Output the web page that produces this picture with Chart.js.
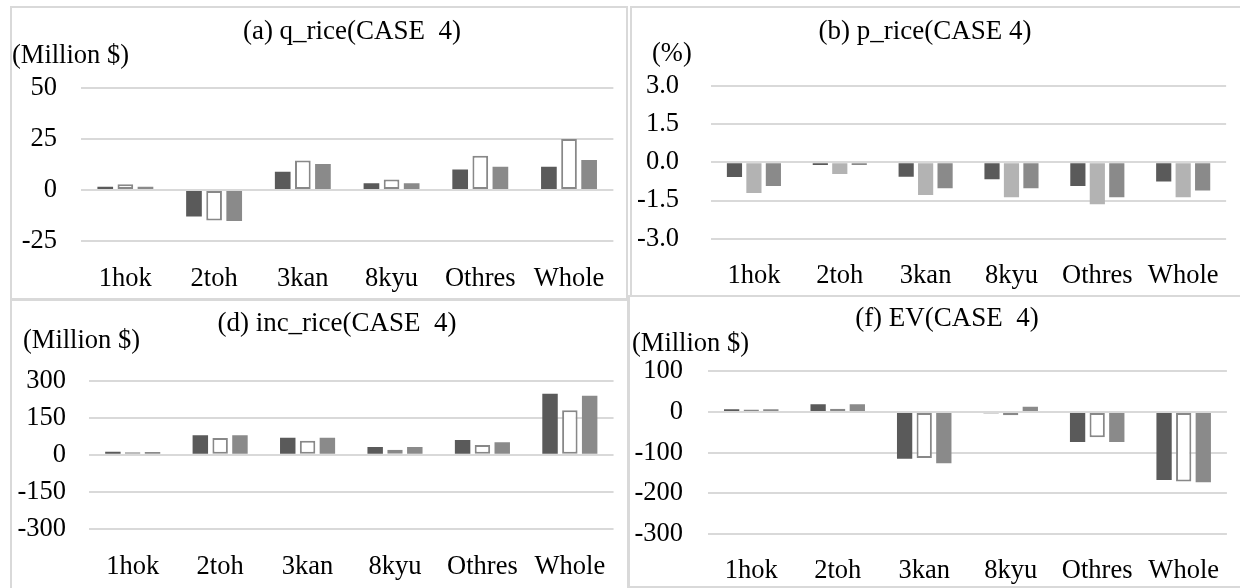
<!DOCTYPE html>
<html><head><meta charset="utf-8">
<script src="https://cdn.jsdelivr.net/npm/chart.js@4.4.1/dist/chart.umd.min.js"></script>
<style>
html,body{margin:0;padding:0;background:#fff;}
body{width:1240px;height:588px;position:relative;overflow:hidden;font-family:"Liberation Serif","Times New Roman",serif;}
.box{position:absolute;border:2px solid #d9d9d9;box-sizing:border-box;}
canvas{position:absolute;}
.txt{position:absolute;white-space:pre;line-height:1;color:#000;}
.title{font-size:27px;transform:translateX(-50%);}
.unit{font-size:26.5px;}
</style></head><body>
<div class="box" style="left:10px;top:6px;width:618px;height:294px;"></div>
<div class="box" style="left:630px;top:6px;width:640px;height:291px;"></div>
<div class="box" style="left:10px;top:299px;width:619px;height:320px;"></div>
<div class="box" style="left:628px;top:295px;width:640px;height:293px;"></div>

<canvas id="cA" width="627" height="299" style="left:0;top:0;"></canvas>
<canvas id="cB" width="609" height="289" style="left:631px;top:7px;"></canvas>
<canvas id="cD" width="628" height="288" style="left:0;top:300px;"></canvas>
<canvas id="cF" width="610" height="291" style="left:630px;top:297px;"></canvas>

<div class="txt title" style="left:352px;top:17px;">(a) q_rice(CASE  4)</div>
<div class="txt unit" style="left:12px;top:41px;">(Million $)</div>
<div class="txt title" style="left:925px;top:17px;">(b) p_rice(CASE 4)</div>
<div class="txt unit" style="left:652px;top:39px;">(%)</div>
<div class="txt title" style="left:337px;top:309px;">(d) inc_rice(CASE  4)</div>
<div class="txt unit" style="left:23px;top:326px;">(Million $)</div>
<div class="txt title" style="left:947px;top:304px;">(f) EV(CASE  4)</div>
<div class="txt unit" style="left:632px;top:329px;">(Million $)</div>

<script>
const categories = ['1hok', '2toh', '3kan', '8kyu', 'Othres', 'Whole'];
const seriesNames = ['Series 1', 'Series 2', 'Series 3'];

const qRice1 = [1.6, -13, 9, 3.3, 10, 11.4];
const qRice2 = [2.8, -15, 14.4, 5.2, 16.8, 25];
const qRice3 = [1.6, -15.2, 12.7, 3.3, 11.4, 14.7];
const qRiceTicks = [-25, 0, 25, 50];

const pRice1 = [-0.58, -0.10, -0.57, -0.66, -0.93, -0.75];
const pRice2 = [-1.20, -0.46, -1.28, -1.37, -1.65, -1.37];
const pRice3 = [-0.93, -0.10, -1.02, -1.02, -1.37, -1.11];
const pRiceTicks = [-3.0, -1.5, 0.0, 1.5, 3.0];

const incRice1 = [13, 80, 69, 32, 60, 248];
const incRice2 = [11, 68, 57, 21, 40, 181];
const incRice3 = [12, 80, 69, 32, 51, 240];
const incRiceTicks = [-300, -150, 0, 150, 300];

const ev1 = [7, 19, -115, -3, -74, -167];
const ev2 = [6, 8, -113, -8, -62, -171];
const ev3 = [7, 19, -126, 13, -74, -173];
const evTicks = [-300, -200, -100, 0, 100];

const FONT = "'Liberation Serif', 'Times New Roman', serif";
const DARK = '#5a5a5a', MID = '#8a8a8a', LIGHT = '#b3b3b3', OUTLINE = '#888888';

function makeChart(id, series, ticks, o) {
  new Chart(document.getElementById(id), {
    type: 'bar',
    data: {
      labels: categories,
      datasets: [
        { label: seriesNames[0], data: series[0], backgroundColor: DARK, borderWidth: 0 },
        o.lightMid
          ? { label: seriesNames[1], data: series[1], backgroundColor: LIGHT, borderWidth: 0 }
          : { label: seriesNames[1], data: series[1], backgroundColor: '#ffffff', borderColor: OUTLINE, borderWidth: 2, borderSkipped: false },
        { label: seriesNames[2], data: series[2], backgroundColor: MID, borderWidth: 0 }
      ]
    },
    options: {
      responsive: false, animation: false, devicePixelRatio: 1,
      layout: { padding: { left: 0, right: o.padR, top: o.padT, bottom: 0 } },
      plugins: { legend: { display: false }, title: { display: false }, tooltip: { enabled: false } },
      datasets: { bar: { categoryPercentage: 0.68, barPercentage: 0.78 } },
      scales: {
        x: {
          grid: { display: false, drawTicks: false }, border: { display: false },
          ticks: { color: '#000', font: { family: FONT, size: 26.5 }, padding: o.xPad, maxRotation: 0, autoSkip: false },
          afterFit: s => { s.height = o.xH; }
        },
        y: {
          min: ticks[0], max: ticks[ticks.length - 1],
          afterBuildTicks: s => { s.ticks = ticks.map(v => ({ value: v })); },
          grid: { color: '#d9d9d9', lineWidth: 2, drawTicks: false }, border: { display: false },
          ticks: { color: '#000', font: { family: FONT, size: 26.5 }, padding: o.yPad, callback: v => o.fmt(v) },
          afterFit: s => { s.width = o.yW; }
        }
      }
    }
  });
}

const intFmt = v => String(Math.round(v));
makeChart('cA', [qRice1, qRice2, qRice3], qRiceTicks, { padR: 8, padT: 88, xH: 58, xPad: 22, yPad: 24, yW: 81, fmt: intFmt });
makeChart('cB', [pRice1, pRice2, pRice3], pRiceTicks, { padR: 0, padT: 79, xH: 57.3, xPad: 21.5, yPad: 32, yW: 80, fmt: v => v.toFixed(1), lightMid: true });
makeChart('cD', [incRice1, incRice2, incRice3], incRiceTicks, { padR: 4, padT: 81, xH: 59.3, xPad: 22.5, yPad: 23, yW: 89, fmt: intFmt });
makeChart('cF', [ev1, ev2, ev3], evTicks, { padR: 0, padT: 74.3, xH: 54, xPad: 21, yPad: 25, yW: 78, fmt: intFmt });
</script>
</body></html>
